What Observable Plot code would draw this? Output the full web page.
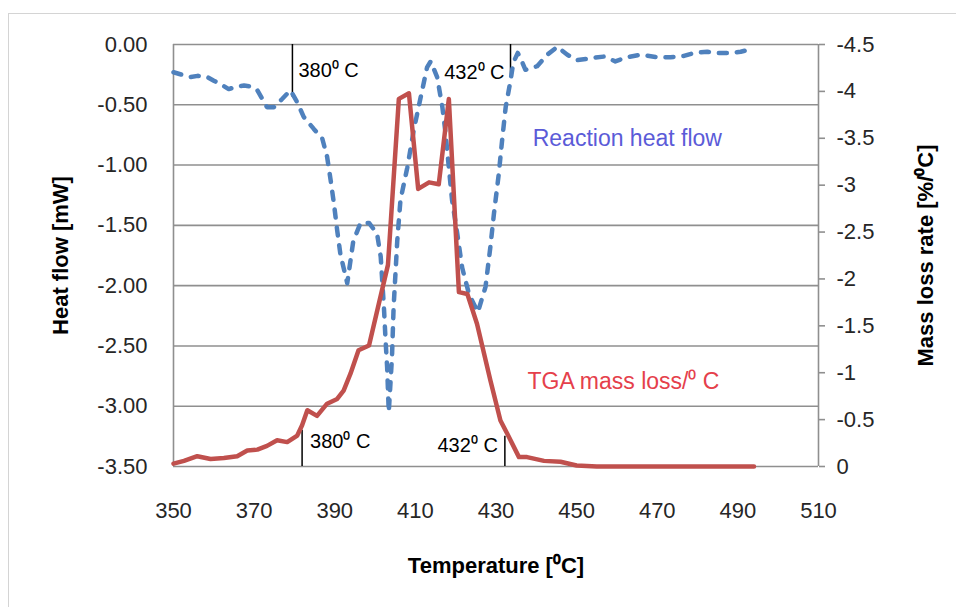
<!DOCTYPE html>
<html>
<head>
<meta charset="utf-8">
<script src="https://cdn.jsdelivr.net/npm/d3@7"></script>
<script src="https://cdn.jsdelivr.net/npm/@observablehq/plot@0.6"></script>
<style>
  html, body { margin: 0; padding: 0; background: #fff; }
  #wrap { position: relative; width: 956px; height: 607px; overflow: hidden; }
  #border { position: absolute; left: 8px; top: 13px; width: 1100px; height: 800px; border: 1.5px solid #d4d4d4; box-sizing: border-box; }
  #chart { position: absolute; left: 0; top: 0; }
</style>
</head>
<body>
<div id="wrap"><div id="border"></div><div id="chart"></div></div>
<script>
// ---- Data ----
// Reaction heat flow (left axis, mW) vs temperature (°C)
const heatT = [350,352,354.2,356,358.4,360,361.7,363.7,365.5,367.5,369.5,370.8,372,373.2,374.9,377,379,380.7,382.3,384.8,386.9,388.1,389,389.8,390.6,391.4,393.1,394.6,396.4,398.5,400.5,401.4,402.2,402.6,403,403.4,404.2,404.6,405.5,406.3,408,409.6,411.3,412.9,413.8,415.4,416.7,417.5,418.3,419.1,420.4,421.6,423.3,425.5,427.4,428.6,429.5,430.7,431.5,432.4,433.6,434.3,435.4,436.3,437.3,440.2,442.7,445.2,447.7,450.1,454.3,456.8,459.6,462.5,465.9,470,473.3,476.6,479.1,482.4,484.9,488.2,490.7,493.6];
const heatFlow = [-0.23,-0.25,-0.27,-0.26,-0.27,-0.30,-0.33,-0.37,-0.35,-0.34,-0.35,-0.38,-0.45,-0.52,-0.52,-0.45,-0.38,-0.48,-0.60,-0.70,-0.78,-0.93,-1.13,-1.32,-1.54,-1.74,-1.98,-1.63,-1.48,-1.48,-1.57,-1.76,-2.18,-2.45,-2.68,-3.05,-2.59,-2.18,-1.63,-1.29,-1.02,-0.71,-0.44,-0.19,-0.14,-0.27,-0.52,-0.74,-1.02,-1.29,-1.57,-1.85,-2.07,-2.22,-2.01,-1.68,-1.40,-1.07,-0.80,-0.52,-0.30,-0.15,-0.07,-0.13,-0.21,-0.18,-0.085,-0.02,-0.085,-0.13,-0.11,-0.10,-0.14,-0.105,-0.085,-0.105,-0.105,-0.095,-0.07,-0.06,-0.07,-0.07,-0.06,-0.035];

// TGA mass loss rate (right axis, %/°C) vs temperature (°C)
const massT = [350,352.6,355.9,359.2,362.5,365.8,368.3,370.8,373.2,375.7,378.2,380.7,381.9,383.2,385.6,388.1,390.6,392.2,393.9,395.9,398.5,403.2,405.9,408.4,410.7,413.4,415.8,418.3,420.8,422.9,425.3,428.6,431.1,432.8,435.7,437.7,441.9,446,450,455,494];
const massRate = [-0.03,-0.06,-0.11,-0.08,-0.09,-0.11,-0.17,-0.18,-0.22,-0.28,-0.26,-0.33,-0.44,-0.60,-0.54,-0.67,-0.72,-0.81,-0.99,-1.24,-1.29,-2.15,-3.92,-3.98,-2.96,-3.03,-3.01,-3.92,-1.86,-1.84,-1.52,-0.92,-0.49,-0.35,-0.10,-0.10,-0.06,-0.05,-0.01,0,0];

// Axis ticks
const xTicks = [350,370,390,410,430,450,470,490,510];
const heatTicks = [0,-0.5,-1,-1.5,-2,-2.5,-3,-3.5];
const massTicks = [-4.5,-4,-3.5,-3,-2.5,-2,-1.5,-1,-0.5,0];

// Temperature markers (annotations)
const markerLabels = ["380⁰ C","432⁰ C"];
const topMarkerT = [379.5, 433.6];
const topMarkerEnd = [-0.44, -0.26];
const bottomMarkerT = [381.9, 432.2];
const bottomMarkerStart = [-3.20, -3.25];

// ---- Build ----
const heat = heatT.map((t, i) => ({T: t, H: heatFlow[i]}));
// map mass-loss axis (-4.5 .. 0) onto the heat-flow axis (0 .. -3.5)
const massToH = m => -3.5 - m * (3.5 / 4.5);
const mass = massT.map((t, i) => ({T: t, H: massToH(massRate[i])}));

const topMarkers = topMarkerT.map((t, i) => ({T: t, y1: 0, y2: topMarkerEnd[i], label: markerLabels[i]}));
const bottomMarkers = bottomMarkerT.map((t, i) => ({T: t, y1: bottomMarkerStart[i], y2: -3.5, label: markerLabels[i]}));

const font = "'Liberation Sans', Arial, sans-serif";

const chart = Plot.plot({
  width: 956,
  height: 607,
  marginLeft: 173,
  marginRight: 138,
  marginTop: 44,
  marginBottom: 141,
  style: {fontFamily: font, fontSize: "22px", color: "#262626", background: "transparent"},
  x: {domain: [350, 510]},
  y: {domain: [-3.5, 0]},
  marks: [
    Plot.gridY(heatTicks, {stroke: "#8f8f8f", strokeOpacity: 1, strokeWidth: 1.6}),
    Plot.ruleX([350, 510], {stroke: "#8f8f8f", strokeWidth: 1.6}),
    Plot.axisX(xTicks, {tickSize: 0, tickPadding: 36, fontSize: 22, letterSpacing: "0.5px", label: null}),
    Plot.axisY(heatTicks, {anchor: "left", tickSize: 0, tickPadding: 26, fontSize: 22, letterSpacing: "0.6px", tickFormat: d => d.toFixed(2), label: null}),
    Plot.axisY(massTicks.map(massToH), {anchor: "right", tickSize: 6, tickPadding: 12, stroke: "#8f8f8f", strokeWidth: 1.6, fontSize: 22, letterSpacing: "0.6px",
      tickFormat: d => { const v = Math.round(-(d + 3.5) * 4.5 / 3.5 * 10) / 10; return Math.abs(v) < 1e-9 ? "0" : String(v); }, label: null}),
    // temperature markers
    Plot.ruleX(topMarkers, {x: "T", y1: "y1", y2: "y2", stroke: "#000", strokeWidth: 1.5}),
    Plot.ruleX(bottomMarkers, {x: "T", y1: "y1", y2: "y2", stroke: "#000", strokeWidth: 1.5}),
    Plot.text([topMarkers[0]], {x: "T", y: -0.216, text: "label", textAnchor: "start", dx: 6, fontSize: 20, fill: "#000"}),
    Plot.text([topMarkers[1]], {x: "T", y: -0.232, text: "label", textAnchor: "end", dx: -6, fontSize: 20, fill: "#000"}),
    Plot.text([bottomMarkers[0]], {x: "T", y: -3.29, text: "label", textAnchor: "start", dx: 8, fontSize: 20, fill: "#000"}),
    Plot.text([bottomMarkers[1]], {x: "T", y: -3.33, text: "label", textAnchor: "end", dx: -7, fontSize: 20, fill: "#000"}),
    // series
    Plot.line(heat, {x: "T", y: "H", stroke: "#4F81BD", strokeWidth: 4.5, strokeDasharray: "8,10", strokeLinecap: "round", strokeLinejoin: "round", curve: "linear"}),
    Plot.line(mass, {x: "T", y: "H", stroke: "#C0504D", strokeWidth: 4.5, strokeLinejoin: "round", curve: "linear"}),
    // series labels
    Plot.text(["Reaction heat flow"], {x: 439.1, y: -0.78, textAnchor: "start", fontSize: 23, letterSpacing: "0.5px", fill: "#5B5BD8"}),
    Plot.text(["TGA mass loss/⁰ C"], {x: 437.8, y: -2.80, textAnchor: "start", fontSize: 23, letterSpacing: "0.5px", fill: "#E5404B"}),
    // axis titles
    Plot.text(["Temperature [⁰C]"], {frameAnchor: "bottom", dy: 99, textAnchor: "middle", fontSize: 22, fontWeight: "bold", fill: "#000", lineAnchor: "middle", letterSpacing: "1px"}),
    Plot.text(["Heat flow [mW]"], {frameAnchor: "left", dx: -113, rotate: -90, textAnchor: "middle", lineAnchor: "middle", fontSize: 22, fontWeight: "bold", fill: "#000", letterSpacing: "1.5px"}),
    Plot.text(["Mass loss rate [%/⁰C]"], {frameAnchor: "right", dx: 107, rotate: -90, textAnchor: "middle", lineAnchor: "middle", fontSize: 22, fontWeight: "bold", fill: "#000", letterSpacing: "2.5px"})
  ]
});
document.getElementById("chart").appendChild(chart);
</script>
</body>
</html>
